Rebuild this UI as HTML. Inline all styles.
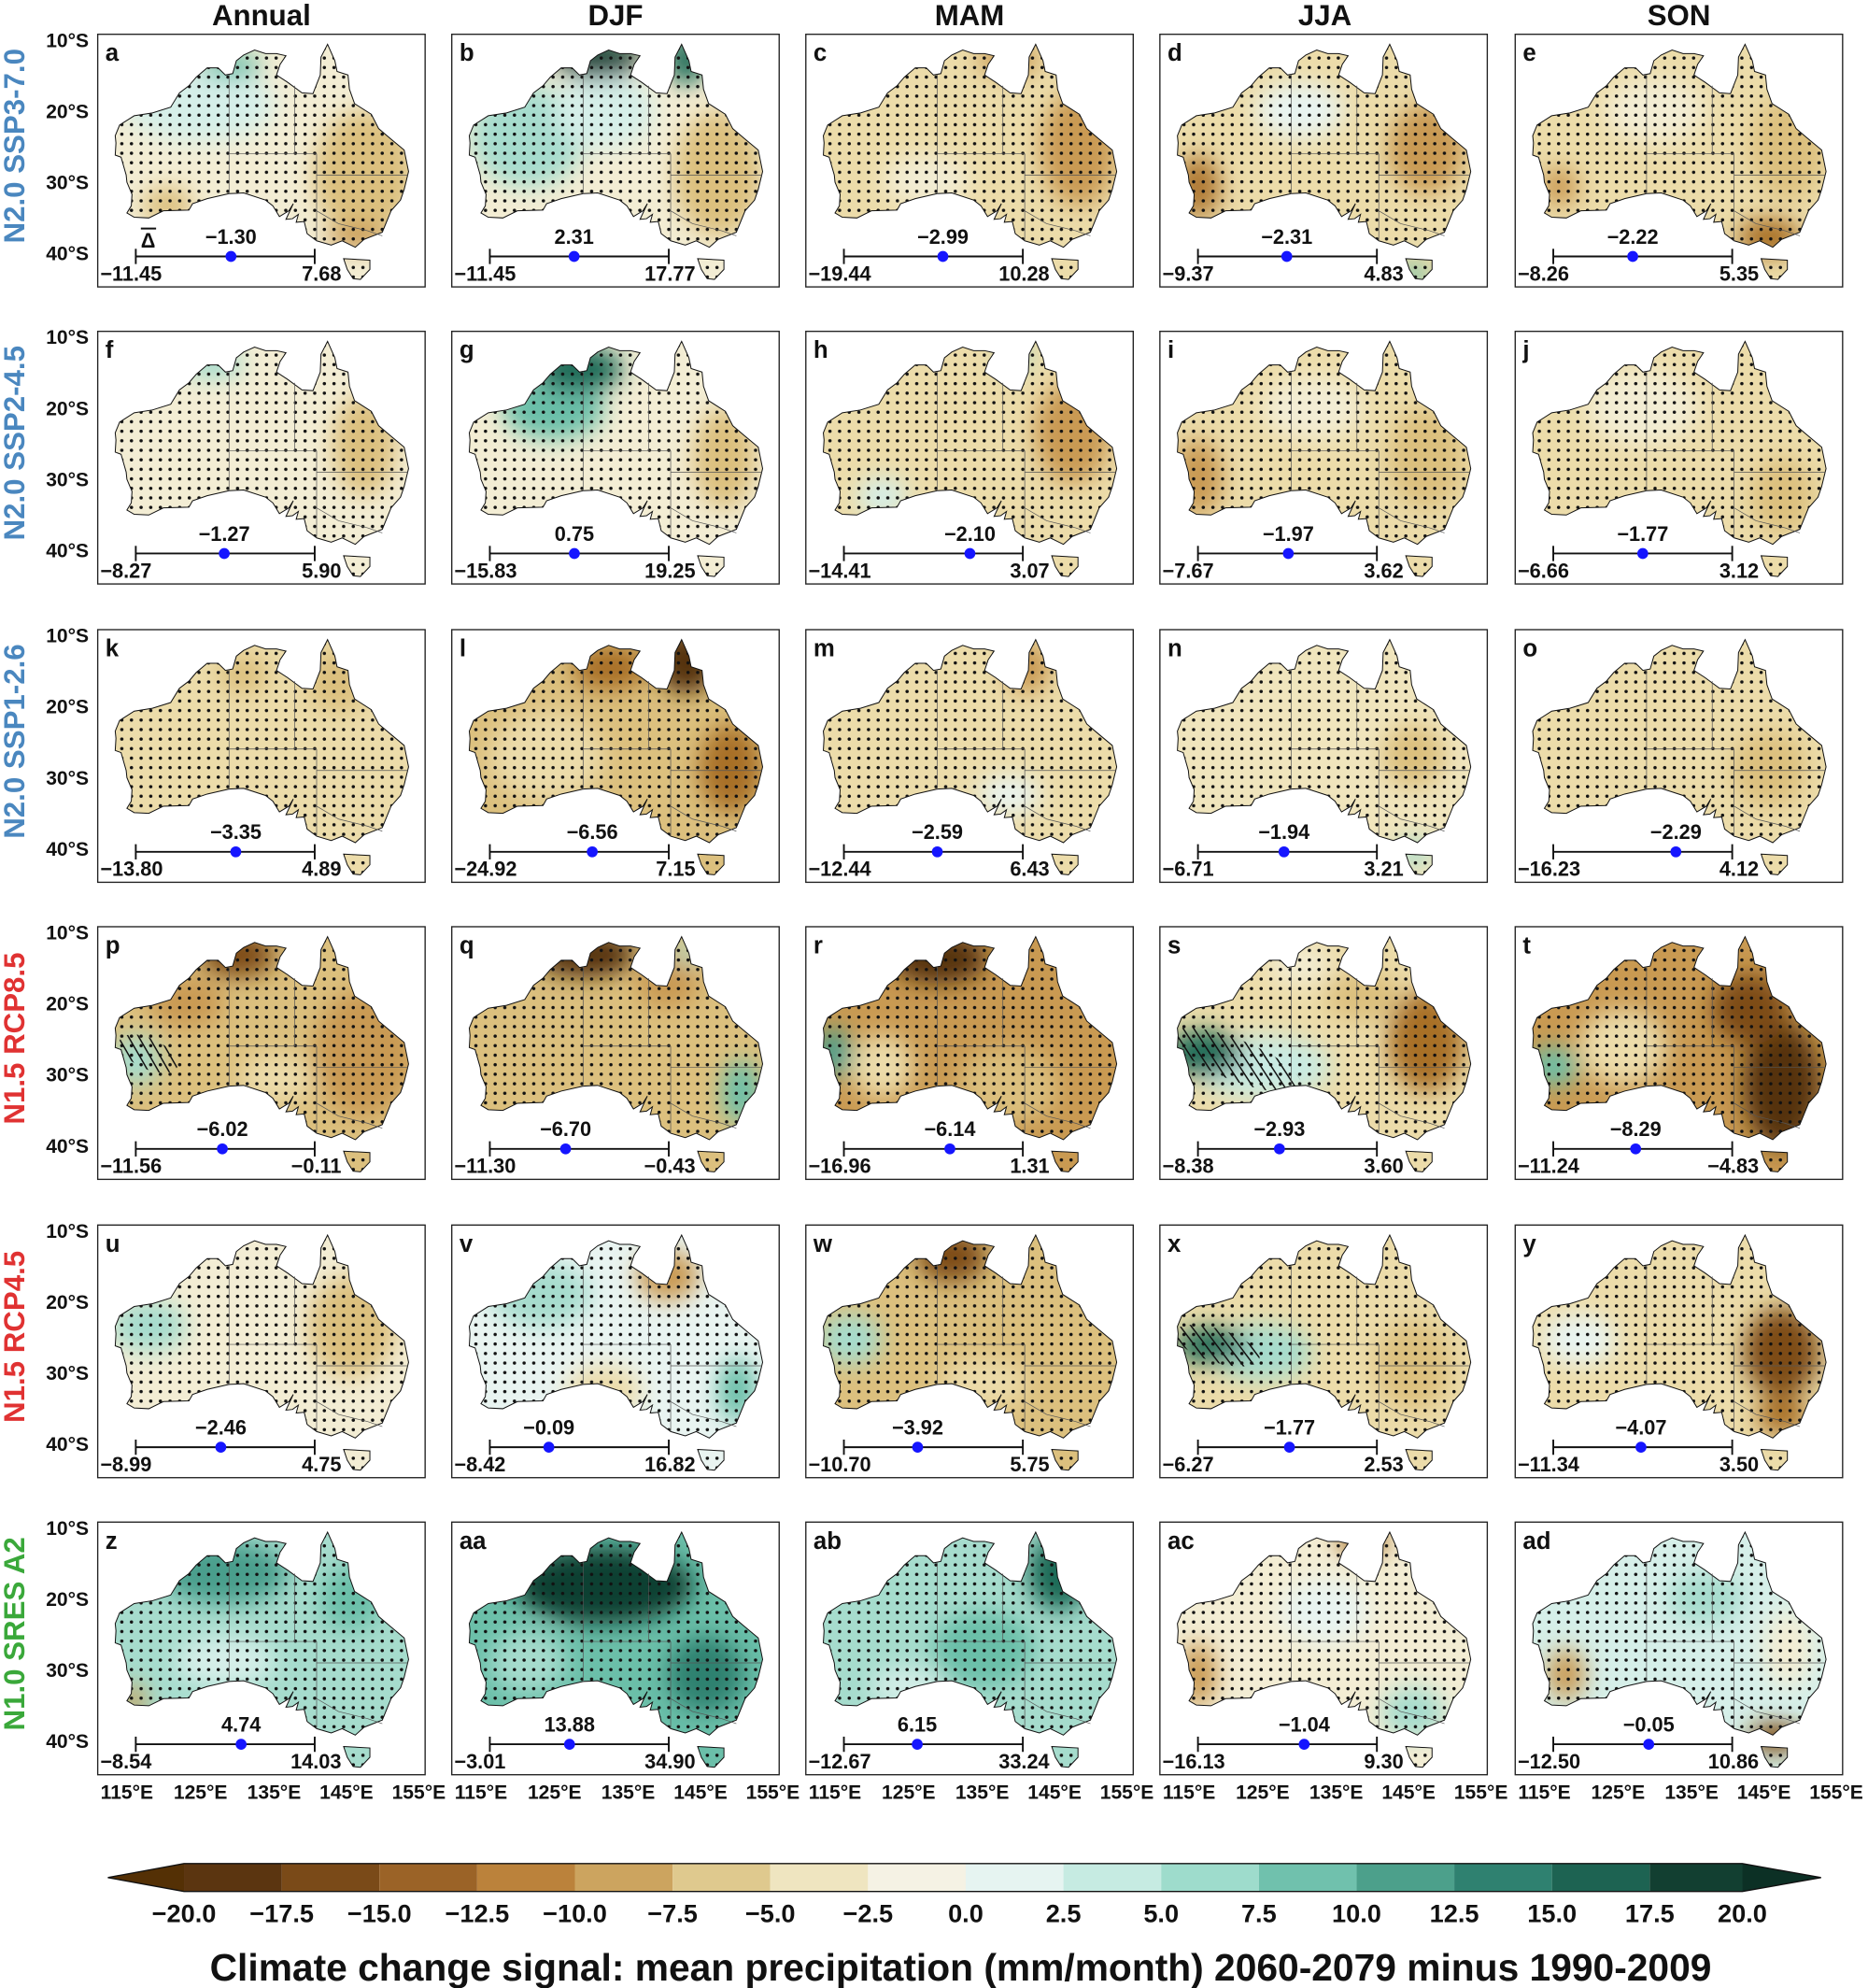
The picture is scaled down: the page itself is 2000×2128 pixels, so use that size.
<!DOCTYPE html>
<html><head><meta charset="utf-8"><style>
html,body{margin:0;padding:0;background:#fff}
svg{display:block}
text{font-family:"Liberation Sans","DejaVu Sans",sans-serif;font-weight:bold;fill:#111}
.lt{font-size:19px}
.v{font-size:16px;text-anchor:middle}
.m{font-size:16px}
.e{text-anchor:end}
.ax{font-size:15.5px}
.hd{font-size:23px;text-anchor:middle}
.rl{font-size:23px;text-anchor:middle}
.cb{font-size:20px;text-anchor:middle}
</style></head><body>
<svg width="2000" height="2128" viewBox="0 0 1472 1566" preserveAspectRatio="none" xmlns="http://www.w3.org/2000/svg">
<defs>
<path id="ausp" vector-effect="non-scaling-stroke" transform="scale(5.75,5.63) translate(-111,-9.3)" d="M114,22 L116,20.7 L118.5,20.3 L121,19.5 L122.2,17.5 L123.5,16.5 L124.5,15.3 L126,14 L127.5,14 L128.5,15 L129.5,14.8 L130,13 L131,12.2 L132.5,11.5 L134,12 L135.5,12 L136.8,12.3 L136,13.5 L135.5,15 L137,16 L139,17.5 L140.5,17.6 L141.5,15 L141.6,12.5 L142.5,10.7 L143.5,13 L143.8,14.5 L145.3,15 L145.5,17 L146.2,19 L148.5,20.5 L149.5,22.5 L151,23.8 L153,25.5 L153.6,28.5 L153,31 L152.5,32.5 L151.2,34 L150,37 L147.5,38 L146.3,39.1 L144.5,38.2 L143,38.8 L141,38.2 L139.7,37.2 L139.3,35.5 L138.2,35.6 L138.5,34.5 L137.7,35.1 L136.8,35.2 L137.8,33 L137.2,34 L135.9,34.8 L135,33.3 L134,32.5 L131,31.5 L129,31.6 L126,32.3 L124,33 L123.5,33.9 L120,34 L118,35 L116,34.9 L115,34.3 L115.6,33.3 L115.7,31.7 L115,30 L114.9,29 L114.2,26.5 L113.4,26.2 L113.5,24.5 L113.4,23.5 Z M144.7,40.7 L148.3,40.9 L148.3,42.2 L147,43.6 L146,43.5 L145.2,42.2 Z"/>
<clipPath id="aus"><use href="#ausp"/></clipPath>
<g id="outline" fill="none" stroke="#111">
<use href="#ausp" stroke-width="1"/>
</g>
<path id="states" transform="scale(5.75,5.63) translate(-111,-9.3)" fill="none" stroke="#555" stroke-width="0.7" vector-effect="non-scaling-stroke" d="M129,14.9 L129,31.7 M129,26 L141,26 M138,16.5 L138,26 M141,26 L141,38.2 M141,29 L153.5,29 M141,34 L144,35.8 L148,36.8 L150,37.5"/>
<pattern id="dots" patternUnits="userSpaceOnUse" width="7.6" height="7.5"><circle cx="3.8" cy="3.7" r="1.3" fill="#111"/></pattern>
<pattern id="hatch" patternUnits="userSpaceOnUse" width="7" height="7" patternTransform="rotate(35)"><line x1="0" y1="3" x2="7" y2="3" stroke="#111" stroke-width="1.1"/></pattern>
<filter id="bl" x="-50%" y="-50%" width="200%" height="200%"><feGaussianBlur stdDeviation="9"/></filter>
<g id="eb" stroke="#111" stroke-width="1.4"><line x1="30" y1="175" x2="171" y2="175"/><line x1="30" y1="169" x2="30" y2="181"/><line x1="171" y1="169" x2="171" y2="181"/></g>
<rect id="fr" width="258" height="199" fill="none" stroke="#222" stroke-width="1"/>
</defs>
<rect width="1472" height="1566" fill="#fff"/>

<!-- headers -->
<text class="hd" x="206" y="20">Annual</text>
<text class="hd" x="485" y="20">DJF</text>
<text class="hd" x="764" y="20">MAM</text>
<text class="hd" x="1044" y="20">JJA</text>
<text class="hd" x="1323" y="20">SON</text>

<!-- row labels -->
<text class="rl" transform="translate(19,115) rotate(-90)" style="fill:#4a87bf">N2.0 SSP3-7.0</text>
<text class="rl" transform="translate(19,349) rotate(-90)" style="fill:#4a87bf">N2.0 SSP2-4.5</text>
<text class="rl" transform="translate(19,584) rotate(-90)" style="fill:#4a87bf">N2.0 SSP1-2.6</text>
<text class="rl" transform="translate(19,818) rotate(-90)" style="fill:#e03232">N1.5 RCP8.5</text>
<text class="rl" transform="translate(19,1053) rotate(-90)" style="fill:#e03232">N1.5 RCP4.5</text>
<text class="rl" transform="translate(19,1287) rotate(-90)" style="fill:#3aa83a">N1.0 SRES A2</text>

<!-- y labels -->
<g>
<text class="ax e" x="70" y="37">10°S</text><text class="ax e" x="70" y="93">20°S</text><text class="ax e" x="70" y="149">30°S</text><text class="ax e" x="70" y="205">40°S</text>
<text class="ax e" x="70" y="271">10°S</text><text class="ax e" x="70" y="327">20°S</text><text class="ax e" x="70" y="383">30°S</text><text class="ax e" x="70" y="439">40°S</text>
<text class="ax e" x="70" y="506">10°S</text><text class="ax e" x="70" y="562">20°S</text><text class="ax e" x="70" y="618">30°S</text><text class="ax e" x="70" y="674">40°S</text>
<text class="ax e" x="70" y="740">10°S</text><text class="ax e" x="70" y="796">20°S</text><text class="ax e" x="70" y="852">30°S</text><text class="ax e" x="70" y="908">40°S</text>
<text class="ax e" x="70" y="975">10°S</text><text class="ax e" x="70" y="1031">20°S</text><text class="ax e" x="70" y="1087">30°S</text><text class="ax e" x="70" y="1143">40°S</text>
<text class="ax e" x="70" y="1209">10°S</text><text class="ax e" x="70" y="1265">20°S</text><text class="ax e" x="70" y="1321">30°S</text><text class="ax e" x="70" y="1377">40°S</text>
</g>

<!-- x labels -->
<g>
<text class="ax" x="100" y="1417" text-anchor="middle">115°E</text><text class="ax" x="158" y="1417" text-anchor="middle">125°E</text><text class="ax" x="216" y="1417" text-anchor="middle">135°E</text><text class="ax" x="273" y="1417" text-anchor="middle">145°E</text><text class="ax" x="330" y="1417" text-anchor="middle">155°E</text>
<text class="ax" x="379" y="1417" text-anchor="middle">115°E</text><text class="ax" x="437" y="1417" text-anchor="middle">125°E</text><text class="ax" x="495" y="1417" text-anchor="middle">135°E</text><text class="ax" x="552" y="1417" text-anchor="middle">145°E</text><text class="ax" x="609" y="1417" text-anchor="middle">155°E</text>
<text class="ax" x="658" y="1417" text-anchor="middle">115°E</text><text class="ax" x="716" y="1417" text-anchor="middle">125°E</text><text class="ax" x="774" y="1417" text-anchor="middle">135°E</text><text class="ax" x="831" y="1417" text-anchor="middle">145°E</text><text class="ax" x="888" y="1417" text-anchor="middle">155°E</text>
<text class="ax" x="937" y="1417" text-anchor="middle">115°E</text><text class="ax" x="995" y="1417" text-anchor="middle">125°E</text><text class="ax" x="1053" y="1417" text-anchor="middle">135°E</text><text class="ax" x="1110" y="1417" text-anchor="middle">145°E</text><text class="ax" x="1167" y="1417" text-anchor="middle">155°E</text>
<text class="ax" x="1217" y="1417" text-anchor="middle">115°E</text><text class="ax" x="1275" y="1417" text-anchor="middle">125°E</text><text class="ax" x="1333" y="1417" text-anchor="middle">135°E</text><text class="ax" x="1390" y="1417" text-anchor="middle">145°E</text><text class="ax" x="1447" y="1417" text-anchor="middle">155°E</text>
</g>

<!-- ROW 1 -->
<g transform="translate(77,27)"><g clip-path="url(#aus)"><rect width="258" height="199" fill="#f3edd4"/><g filter="url(#bl)"><ellipse cx="80" cy="55" rx="60" ry="30" fill="#d6efe9"/><ellipse cx="105" cy="25" rx="25" ry="10" fill="#6bbfa9"/><ellipse cx="210" cy="110" rx="40" ry="50" fill="#dcc07e"/><ellipse cx="55" cy="135" rx="20" ry="15" fill="#dcc07e"/><ellipse cx="205" cy="160" rx="25" ry="10" fill="#c99a52"/></g><rect width="258" height="199" fill="url(#dots)"/></g><use href="#outline"/><use href="#states"/><use href="#fr"/><text class="lt" x="6" y="21">a</text><text class="m" x="34" y="168">Δ</text><line x1="34" y1="153" x2="46" y2="153" stroke="#111" stroke-width="1.5"/><use href="#eb"/><circle cx="105" cy="175" r="4.3" fill="#1515ff"/><text class="v" x="105" y="165">−1.30</text><text class="m" x="2" y="194">−11.45</text><text class="m e" x="192" y="194">7.68</text></g>

<g transform="translate(356,27)"><g clip-path="url(#aus)"><rect width="258" height="199" fill="#f3edd4"/><g filter="url(#bl)"><ellipse cx="60" cy="80" rx="45" ry="40" fill="#a6dccd"/><ellipse cx="120" cy="60" rx="40" ry="30" fill="#d6efe9"/><ellipse cx="115" cy="20" rx="35" ry="15" fill="#0f3f31"/><ellipse cx="185" cy="20" rx="15" ry="20" fill="#1f6a56"/><ellipse cx="210" cy="110" rx="35" ry="50" fill="#dcc07e"/></g><rect width="258" height="199" fill="url(#dots)"/></g><use href="#outline"/><use href="#states"/><use href="#fr"/><text class="lt" x="6" y="21">b</text><use href="#eb"/><circle cx="96.4" cy="175" r="4.3" fill="#1515ff"/><text class="v" x="96.4" y="165">2.31</text><text class="m" x="2" y="194">−11.45</text><text class="m e" x="192" y="194">17.77</text></g>

<g transform="translate(635,27)"><g clip-path="url(#aus)"><rect width="258" height="199" fill="#ecdcaa"/><g filter="url(#bl)"><ellipse cx="215" cy="90" rx="30" ry="45" fill="#c99a52"/><ellipse cx="160" cy="20" rx="25" ry="12" fill="#c99a52"/><ellipse cx="95" cy="115" rx="35" ry="20" fill="#f3edd4"/></g><rect width="258" height="199" fill="url(#dots)"/></g><use href="#outline"/><use href="#states"/><use href="#fr"/><text class="lt" x="6" y="21">c</text><use href="#eb"/><circle cx="108" cy="175" r="4.3" fill="#1515ff"/><text class="v" x="108" y="165">−2.99</text><text class="m" x="2" y="194">−19.44</text><text class="m e" x="192" y="194">10.28</text></g>

<g transform="translate(914,27)"><g clip-path="url(#aus)"><rect width="258" height="199" fill="#ecdcaa"/><g filter="url(#bl)"><ellipse cx="30" cy="120" rx="18" ry="25" fill="#b07a35"/><ellipse cx="210" cy="90" rx="30" ry="35" fill="#c99a52"/><ellipse cx="110" cy="60" rx="35" ry="22" fill="#e9f4f1"/><ellipse cx="200" cy="190" rx="10" ry="10" fill="#6bbfa9"/></g><rect width="258" height="199" fill="url(#dots)"/></g><use href="#outline"/><use href="#states"/><use href="#fr"/><text class="lt" x="6" y="21">d</text><use href="#eb"/><circle cx="100" cy="175" r="4.3" fill="#1515ff"/><text class="v" x="100" y="165">−2.31</text><text class="m" x="2" y="194">−9.37</text><text class="m e" x="192" y="194">4.83</text></g>

<g transform="translate(1194,27)"><g clip-path="url(#aus)"><rect width="258" height="199" fill="#ecdcaa"/><g filter="url(#bl)"><ellipse cx="200" cy="160" rx="25" ry="15" fill="#a86f28"/><ellipse cx="215" cy="90" rx="30" ry="40" fill="#dcc07e"/><ellipse cx="35" cy="120" rx="15" ry="15" fill="#c99a52"/><ellipse cx="110" cy="60" rx="40" ry="25" fill="#f3edd4"/></g><rect width="258" height="199" fill="url(#dots)"/></g><use href="#outline"/><use href="#states"/><use href="#fr"/><text class="lt" x="6" y="21">e</text><use href="#eb"/><circle cx="92.6" cy="175" r="4.3" fill="#1515ff"/><text class="v" x="92.6" y="165">−2.22</text><text class="m" x="2" y="194">−8.26</text><text class="m e" x="192" y="194">5.35</text></g>

<!-- ROW 2 -->
<g transform="translate(77,261)"><g clip-path="url(#aus)"><rect width="258" height="199" fill="#f3edd4"/><g filter="url(#bl)"><ellipse cx="90" cy="25" rx="25" ry="12" fill="#a6dccd"/><ellipse cx="210" cy="90" rx="25" ry="40" fill="#dcc07e"/></g><rect width="258" height="199" fill="url(#dots)"/></g><use href="#outline"/><use href="#states"/><use href="#fr"/><text class="lt" x="6" y="21">f</text><use href="#eb"/><circle cx="99.7" cy="175" r="4.3" fill="#1515ff"/><text class="v" x="99.7" y="165">−1.27</text><text class="m" x="2" y="194">−8.27</text><text class="m e" x="192" y="194">5.90</text></g>

<g transform="translate(356,261)"><g clip-path="url(#aus)"><rect width="258" height="199" fill="#f3edd4"/><g filter="url(#bl)"><ellipse cx="80" cy="60" rx="40" ry="25" fill="#6bbfa9"/><ellipse cx="100" cy="30" rx="35" ry="18" fill="#1f6a56"/><ellipse cx="215" cy="100" rx="25" ry="40" fill="#dcc07e"/></g><rect width="258" height="199" fill="url(#dots)"/></g><use href="#outline"/><use href="#states"/><use href="#fr"/><text class="lt" x="6" y="21">g</text><use href="#eb"/><circle cx="96.6" cy="175" r="4.3" fill="#1515ff"/><text class="v" x="96.6" y="165">0.75</text><text class="m" x="2" y="194">−15.83</text><text class="m e" x="192" y="194">19.25</text></g>

<g transform="translate(635,261)"><g clip-path="url(#aus)"><rect width="258" height="199" fill="#ecdcaa"/><g filter="url(#bl)"><ellipse cx="210" cy="80" rx="30" ry="40" fill="#c99a52"/><ellipse cx="60" cy="130" rx="20" ry="15" fill="#d6efe9"/><ellipse cx="165" cy="20" rx="12" ry="10" fill="#a6dccd"/></g><rect width="258" height="199" fill="url(#dots)"/></g><use href="#outline"/><use href="#states"/><use href="#fr"/><text class="lt" x="6" y="21">h</text><use href="#eb"/><circle cx="129.3" cy="175" r="4.3" fill="#1515ff"/><text class="v" x="129.3" y="165">−2.10</text><text class="m" x="2" y="194">−14.41</text><text class="m e" x="192" y="194">3.07</text></g>

<g transform="translate(914,261)"><g clip-path="url(#aus)"><rect width="258" height="199" fill="#ecdcaa"/><g filter="url(#bl)"><ellipse cx="30" cy="115" rx="20" ry="30" fill="#c99a52"/><ellipse cx="210" cy="100" rx="30" ry="40" fill="#dcc07e"/><ellipse cx="120" cy="60" rx="40" ry="25" fill="#f3edd4"/></g><rect width="258" height="199" fill="url(#dots)"/></g><use href="#outline"/><use href="#states"/><use href="#fr"/><text class="lt" x="6" y="21">i</text><use href="#eb"/><circle cx="101.2" cy="175" r="4.3" fill="#1515ff"/><text class="v" x="101.2" y="165">−1.97</text><text class="m" x="2" y="194">−7.67</text><text class="m e" x="192" y="194">3.62</text></g>

<g transform="translate(1194,261)"><g clip-path="url(#aus)"><rect width="258" height="199" fill="#ecdcaa"/><g filter="url(#bl)"><ellipse cx="210" cy="130" rx="25" ry="30" fill="#dcc07e"/><ellipse cx="100" cy="60" rx="45" ry="30" fill="#f3edd4"/></g><rect width="258" height="199" fill="url(#dots)"/></g><use href="#outline"/><use href="#states"/><use href="#fr"/><text class="lt" x="6" y="21">j</text><use href="#eb"/><circle cx="100.5" cy="175" r="4.3" fill="#1515ff"/><text class="v" x="100.5" y="165">−1.77</text><text class="m" x="2" y="194">−6.66</text><text class="m e" x="192" y="194">3.12</text></g>

<!-- ROW 3 -->
<g transform="translate(77,496)"><g clip-path="url(#aus)"><rect width="258" height="199" fill="#ecdcaa"/><g filter="url(#bl)"><ellipse cx="190" cy="40" rx="25" ry="25" fill="#dcc07e"/><ellipse cx="115" cy="35" rx="20" ry="15" fill="#dcc07e"/></g><rect width="258" height="199" fill="url(#dots)"/></g><use href="#outline"/><use href="#states"/><use href="#fr"/><text class="lt" x="6" y="21">k</text><use href="#eb"/><circle cx="108.8" cy="175" r="4.3" fill="#1515ff"/><text class="v" x="108.8" y="165">−3.35</text><text class="m" x="2" y="194">−13.80</text><text class="m e" x="192" y="194">4.89</text></g>

<g transform="translate(356,496)"><g clip-path="url(#aus)"><rect width="258" height="199" fill="#dcc07e"/><g filter="url(#bl)"><ellipse cx="185" cy="25" rx="25" ry="25" fill="#55320a"/><ellipse cx="125" cy="30" rx="30" ry="18" fill="#a86f28"/><ellipse cx="220" cy="110" rx="25" ry="35" fill="#a86f28"/><ellipse cx="75" cy="100" rx="45" ry="35" fill="#ecdcaa"/></g><rect width="258" height="199" fill="url(#dots)"/></g><use href="#outline"/><use href="#states"/><use href="#fr"/><text class="lt" x="6" y="21">l</text><use href="#eb"/><circle cx="110.7" cy="175" r="4.3" fill="#1515ff"/><text class="v" x="110.7" y="165">−6.56</text><text class="m" x="2" y="194">−24.92</text><text class="m e" x="192" y="194">7.15</text></g>

<g transform="translate(635,496)"><g clip-path="url(#aus)"><rect width="258" height="199" fill="#ecdcaa"/><g filter="url(#bl)"><ellipse cx="175" cy="30" rx="18" ry="20" fill="#c99a52"/><ellipse cx="160" cy="130" rx="25" ry="15" fill="#e9f4f1"/></g><rect width="258" height="199" fill="url(#dots)"/></g><use href="#outline"/><use href="#states"/><use href="#fr"/><text class="lt" x="6" y="21">m</text><use href="#eb"/><circle cx="103.6" cy="175" r="4.3" fill="#1515ff"/><text class="v" x="103.6" y="165">−2.59</text><text class="m" x="2" y="194">−12.44</text><text class="m e" x="192" y="194">6.43</text></g>

<g transform="translate(914,496)"><g clip-path="url(#aus)"><rect width="258" height="199" fill="#f0e5bd"/><g filter="url(#bl)"><ellipse cx="200" cy="100" rx="25" ry="25" fill="#dcc07e"/><ellipse cx="200" cy="175" rx="15" ry="10" fill="#a6dccd"/></g><rect width="258" height="199" fill="url(#dots)"/></g><use href="#outline"/><use href="#states"/><use href="#fr"/><text class="lt" x="6" y="21">n</text><use href="#eb"/><circle cx="97.8" cy="175" r="4.3" fill="#1515ff"/><text class="v" x="97.8" y="165">−1.94</text><text class="m" x="2" y="194">−6.71</text><text class="m e" x="192" y="194">3.21</text></g>

<g transform="translate(1194,496)"><g clip-path="url(#aus)"><rect width="258" height="199" fill="#ecdcaa"/><g filter="url(#bl)"><ellipse cx="200" cy="110" rx="30" ry="30" fill="#dcc07e"/></g><rect width="258" height="199" fill="url(#dots)"/></g><use href="#outline"/><use href="#states"/><use href="#fr"/><text class="lt" x="6" y="21">o</text><use href="#eb"/><circle cx="126.6" cy="175" r="4.3" fill="#1515ff"/><text class="v" x="126.6" y="165">−2.29</text><text class="m" x="2" y="194">−16.23</text><text class="m e" x="192" y="194">4.12</text></g>

<!-- ROW 4 -->
<g transform="translate(77,730)"><g clip-path="url(#aus)"><rect width="258" height="199" fill="#dcc07e"/><g filter="url(#bl)"><ellipse cx="110" cy="22" rx="30" ry="18" fill="#7d4c12"/><ellipse cx="210" cy="100" rx="40" ry="50" fill="#c99a52"/><ellipse cx="70" cy="60" rx="30" ry="20" fill="#c99a52"/><ellipse cx="30" cy="105" rx="20" ry="20" fill="#a6dccd"/><ellipse cx="140" cy="120" rx="30" ry="20" fill="#ecdcaa"/></g><rect width="258" height="199" fill="url(#dots)"/><ellipse cx="40" cy="100" rx="25" ry="12" fill="url(#hatch)" transform="rotate(25 40 100)"/></g><use href="#outline"/><use href="#states"/><use href="#fr"/><text class="lt" x="6" y="21">p</text><use href="#eb"/><circle cx="98.2" cy="175" r="4.3" fill="#1515ff"/><text class="v" x="98.2" y="165">−6.02</text><text class="m" x="2" y="194">−11.56</text><text class="m e" x="192" y="194">−0.11</text></g>

<g transform="translate(356,730)"><g clip-path="url(#aus)"><rect width="258" height="199" fill="#dcc07e"/><g filter="url(#bl)"><ellipse cx="105" cy="22" rx="40" ry="18" fill="#55320a"/><ellipse cx="170" cy="45" rx="25" ry="20" fill="#c99a52"/><ellipse cx="228" cy="130" rx="15" ry="25" fill="#6bbfa9"/><ellipse cx="185" cy="20" rx="8" ry="10" fill="#a6dccd"/></g><rect width="258" height="199" fill="url(#dots)"/></g><use href="#outline"/><use href="#states"/><use href="#fr"/><text class="lt" x="6" y="21">q</text><use href="#eb"/><circle cx="89.7" cy="175" r="4.3" fill="#1515ff"/><text class="v" x="89.7" y="165">−6.70</text><text class="m" x="2" y="194">−11.30</text><text class="m e" x="192" y="194">−0.43</text></g>

<g transform="translate(635,730)"><g clip-path="url(#aus)"><rect width="258" height="199" fill="#c99a52"/><g filter="url(#bl)"><ellipse cx="105" cy="25" rx="38" ry="20" fill="#55320a"/><ellipse cx="22" cy="100" rx="15" ry="20" fill="#4a9e8c"/><ellipse cx="160" cy="125" rx="40" ry="30" fill="#dcc07e"/><ellipse cx="60" cy="110" rx="25" ry="25" fill="#ecdcaa"/></g><rect width="258" height="199" fill="url(#dots)"/></g><use href="#outline"/><use href="#states"/><use href="#fr"/><text class="lt" x="6" y="21">r</text><use href="#eb"/><circle cx="113.5" cy="175" r="4.3" fill="#1515ff"/><text class="v" x="113.5" y="165">−6.14</text><text class="m" x="2" y="194">−16.96</text><text class="m e" x="192" y="194">1.31</text></g>

<g transform="translate(914,730)"><g clip-path="url(#aus)"><rect width="258" height="199" fill="#ecdcaa"/><g filter="url(#bl)"><ellipse cx="80" cy="110" rx="55" ry="25" fill="#c9ebe3"/><ellipse cx="35" cy="100" rx="30" ry="18" fill="#1f6a56"/><ellipse cx="210" cy="90" rx="30" ry="40" fill="#a86f28"/><ellipse cx="160" cy="55" rx="30" ry="20" fill="#dcc07e"/><ellipse cx="110" cy="30" rx="25" ry="15" fill="#f3edd4"/></g><rect width="258" height="199" fill="url(#dots)"/><ellipse cx="60" cy="105" rx="55" ry="16" fill="url(#hatch)" transform="rotate(22 60 105)"/></g><use href="#outline"/><use href="#states"/><use href="#fr"/><text class="lt" x="6" y="21">s</text><use href="#eb"/><circle cx="94.2" cy="175" r="4.3" fill="#1515ff"/><text class="v" x="94.2" y="165">−2.93</text><text class="m" x="2" y="194">−8.38</text><text class="m e" x="192" y="194">3.60</text></g>

<g transform="translate(1194,730)"><g clip-path="url(#aus)"><rect width="258" height="199" fill="#c99a52"/><g filter="url(#bl)"><ellipse cx="210" cy="125" rx="30" ry="50" fill="#55320a"/><ellipse cx="185" cy="65" rx="30" ry="28" fill="#7d4c12"/><ellipse cx="30" cy="110" rx="20" ry="15" fill="#6bbfa9"/><ellipse cx="85" cy="95" rx="35" ry="30" fill="#ecdcaa"/></g><rect width="258" height="199" fill="url(#dots)"/></g><use href="#outline"/><use href="#states"/><use href="#fr"/><text class="lt" x="6" y="21">t</text><use href="#eb"/><circle cx="94.9" cy="175" r="4.3" fill="#1515ff"/><text class="v" x="94.9" y="165">−8.29</text><text class="m" x="2" y="194">−11.24</text><text class="m e" x="192" y="194">−4.83</text></g>

<!-- ROW 5 -->
<g transform="translate(77,965)"><g clip-path="url(#aus)"><rect width="258" height="199" fill="#f3edd4"/><g filter="url(#bl)"><ellipse cx="40" cy="80" rx="30" ry="20" fill="#a6dccd"/><ellipse cx="200" cy="80" rx="35" ry="40" fill="#dcc07e"/></g><rect width="258" height="199" fill="url(#dots)"/></g><use href="#outline"/><use href="#states"/><use href="#fr"/><text class="lt" x="6" y="21">u</text><use href="#eb"/><circle cx="97" cy="175" r="4.3" fill="#1515ff"/><text class="v" x="97" y="165">−2.46</text><text class="m" x="2" y="194">−8.99</text><text class="m e" x="192" y="194">4.75</text></g>

<g transform="translate(356,965)"><g clip-path="url(#aus)"><rect width="258" height="199" fill="#e9f4f1"/><g filter="url(#bl)"><ellipse cx="70" cy="55" rx="40" ry="25" fill="#a6dccd"/><ellipse cx="170" cy="40" rx="25" ry="20" fill="#c99a52"/><ellipse cx="225" cy="130" rx="15" ry="25" fill="#6bbfa9"/><ellipse cx="120" cy="130" rx="30" ry="20" fill="#ecdcaa"/></g><rect width="258" height="199" fill="url(#dots)"/></g><use href="#outline"/><use href="#states"/><use href="#fr"/><text class="lt" x="6" y="21">v</text><use href="#eb"/><circle cx="76.5" cy="175" r="4.3" fill="#1515ff"/><text class="v" x="76.5" y="165">−0.09</text><text class="m" x="2" y="194">−8.42</text><text class="m e" x="192" y="194">16.82</text></g>

<g transform="translate(635,965)"><g clip-path="url(#aus)"><rect width="258" height="199" fill="#dcc07e"/><g filter="url(#bl)"><ellipse cx="115" cy="25" rx="28" ry="20" fill="#7d4c12"/><ellipse cx="35" cy="90" rx="25" ry="20" fill="#a6dccd"/><ellipse cx="140" cy="125" rx="35" ry="20" fill="#ecdcaa"/></g><rect width="258" height="199" fill="url(#dots)"/></g><use href="#outline"/><use href="#states"/><use href="#fr"/><text class="lt" x="6" y="21">w</text><use href="#eb"/><circle cx="88.1" cy="175" r="4.3" fill="#1515ff"/><text class="v" x="88.1" y="165">−3.92</text><text class="m" x="2" y="194">−10.70</text><text class="m e" x="192" y="194">5.75</text></g>

<g transform="translate(914,965)"><g clip-path="url(#aus)"><rect width="258" height="199" fill="#ecdcaa"/><g filter="url(#bl)"><ellipse cx="80" cy="100" rx="40" ry="22" fill="#a6dccd"/><ellipse cx="40" cy="95" rx="28" ry="14" fill="#1f6a56"/><ellipse cx="200" cy="110" rx="30" ry="35" fill="#dcc07e"/></g><rect width="258" height="199" fill="url(#dots)"/><ellipse cx="45" cy="95" rx="35" ry="13" fill="url(#hatch)" transform="rotate(18 45 95)"/></g><use href="#outline"/><use href="#states"/><use href="#fr"/><text class="lt" x="6" y="21">x</text><use href="#eb"/><circle cx="102.1" cy="175" r="4.3" fill="#1515ff"/><text class="v" x="102.1" y="165">−1.77</text><text class="m" x="2" y="194">−6.27</text><text class="m e" x="192" y="194">2.53</text></g>

<g transform="translate(1194,965)"><g clip-path="url(#aus)"><rect width="258" height="199" fill="#ecdcaa"/><g filter="url(#bl)"><ellipse cx="210" cy="100" rx="30" ry="35" fill="#7d4c12"/><ellipse cx="210" cy="150" rx="20" ry="15" fill="#a86f28"/><ellipse cx="50" cy="90" rx="30" ry="20" fill="#e9f4f1"/></g><rect width="258" height="199" fill="url(#dots)"/></g><use href="#outline"/><use href="#states"/><use href="#fr"/><text class="lt" x="6" y="21">y</text><use href="#eb"/><circle cx="99.1" cy="175" r="4.3" fill="#1515ff"/><text class="v" x="99.1" y="165">−4.07</text><text class="m" x="2" y="194">−11.34</text><text class="m e" x="192" y="194">3.50</text></g>

<!-- ROW 6 -->
<g transform="translate(77,1199)"><g clip-path="url(#aus)"><rect width="258" height="199" fill="#a6dccd"/><g filter="url(#bl)"><ellipse cx="100" cy="40" rx="50" ry="25" fill="#4a9e8c"/><ellipse cx="200" cy="60" rx="25" ry="25" fill="#6bbfa9"/><ellipse cx="28" cy="140" rx="10" ry="12" fill="#c99a52"/><ellipse cx="100" cy="110" rx="40" ry="20" fill="#d6efe9"/></g><rect width="258" height="199" fill="url(#dots)"/></g><use href="#outline"/><use href="#states"/><use href="#fr"/><text class="lt" x="6" y="21">z</text><use href="#eb"/><circle cx="113" cy="175" r="4.3" fill="#1515ff"/><text class="v" x="113" y="165">4.74</text><text class="m" x="2" y="194">−8.54</text><text class="m e" x="192" y="194">14.03</text></g>

<g transform="translate(356,1199)"><g clip-path="url(#aus)"><rect width="258" height="199" fill="#6bbfa9"/><g filter="url(#bl)"><ellipse cx="120" cy="50" rx="70" ry="30" fill="#0f3f31"/><ellipse cx="200" cy="120" rx="30" ry="30" fill="#2e8170"/><ellipse cx="60" cy="110" rx="30" ry="25" fill="#a6dccd"/></g><rect width="258" height="199" fill="url(#dots)"/></g><use href="#outline"/><use href="#states"/><use href="#fr"/><text class="lt" x="6" y="21">aa</text><use href="#eb"/><circle cx="92.8" cy="175" r="4.3" fill="#1515ff"/><text class="v" x="92.8" y="165">13.88</text><text class="m" x="2" y="194">−3.01</text><text class="m e" x="192" y="194">34.90</text></g>

<g transform="translate(635,1199)"><g clip-path="url(#aus)"><rect width="258" height="199" fill="#a6dccd"/><g filter="url(#bl)"><ellipse cx="200" cy="40" rx="25" ry="30" fill="#1f6a56"/><ellipse cx="140" cy="100" rx="40" ry="30" fill="#6bbfa9"/><ellipse cx="80" cy="130" rx="30" ry="15" fill="#d6efe9"/></g><rect width="258" height="199" fill="url(#dots)"/></g><use href="#outline"/><use href="#states"/><use href="#fr"/><text class="lt" x="6" y="21">ab</text><use href="#eb"/><circle cx="87.8" cy="175" r="4.3" fill="#1515ff"/><text class="v" x="87.8" y="165">6.15</text><text class="m" x="2" y="194">−12.67</text><text class="m e" x="192" y="194">33.24</text></g>

<g transform="translate(914,1199)"><g clip-path="url(#aus)"><rect width="258" height="199" fill="#f3edd4"/><g filter="url(#bl)"><ellipse cx="160" cy="15" rx="20" ry="12" fill="#a86f28"/><ellipse cx="30" cy="120" rx="15" ry="25" fill="#c99a52"/><ellipse cx="200" cy="150" rx="25" ry="20" fill="#a6dccd"/><ellipse cx="130" cy="70" rx="35" ry="25" fill="#e9f4f1"/></g><rect width="258" height="199" fill="url(#dots)"/></g><use href="#outline"/><use href="#states"/><use href="#fr"/><text class="lt" x="6" y="21">ac</text><use href="#eb"/><circle cx="113.7" cy="175" r="4.3" fill="#1515ff"/><text class="v" x="113.7" y="165">−1.04</text><text class="m" x="2" y="194">−16.13</text><text class="m e" x="192" y="194">9.30</text></g>

<g transform="translate(1194,1199)"><g clip-path="url(#aus)"><rect width="258" height="199" fill="#d6efe9"/><g filter="url(#bl)"><ellipse cx="205" cy="170" rx="22" ry="12" fill="#7d4c12"/><ellipse cx="40" cy="120" rx="15" ry="20" fill="#c99a52"/><ellipse cx="150" cy="60" rx="30" ry="20" fill="#a6dccd"/><ellipse cx="215" cy="100" rx="20" ry="30" fill="#f3edd4"/></g><rect width="258" height="199" fill="url(#dots)"/></g><use href="#outline"/><use href="#states"/><use href="#fr"/><text class="lt" x="6" y="21">ad</text><use href="#eb"/><circle cx="105.2" cy="175" r="4.3" fill="#1515ff"/><text class="v" x="105.2" y="165">−0.05</text><text class="m" x="2" y="194">−12.50</text><text class="m e" x="192" y="194">10.86</text></g>

<!-- colorbar -->
<g>
<polygon points="85,1479 145,1468 145,1490" fill="#543005"/>
<rect x="145" y="1468" width="77" height="22" fill="#5b3510"/>
<rect x="222" y="1468" width="77" height="22" fill="#7a4a18"/>
<rect x="299" y="1468" width="77" height="22" fill="#9b6327"/>
<rect x="376" y="1468" width="77" height="22" fill="#bb823b"/>
<rect x="453" y="1468" width="77" height="22" fill="#cca45f"/>
<rect x="530" y="1468" width="77" height="22" fill="#dfc98e"/>
<rect x="607" y="1468" width="77" height="22" fill="#efe5c0"/>
<rect x="684" y="1468" width="77" height="22" fill="#f5f2e4"/>
<rect x="761" y="1468" width="77" height="22" fill="#e6f4f1"/>
<rect x="838" y="1468" width="77" height="22" fill="#c6ebe2"/>
<rect x="915" y="1468" width="77" height="22" fill="#9edccc"/>
<rect x="992" y="1468" width="77" height="22" fill="#70c1ad"/>
<rect x="1069" y="1468" width="77" height="22" fill="#4ca08b"/>
<rect x="1146" y="1468" width="77" height="22" fill="#2f8170"/>
<rect x="1223" y="1468" width="77" height="22" fill="#1d6352"/>
<rect x="1300" y="1468" width="73" height="22" fill="#123f31"/>
<polygon points="1373,1468 1435,1479 1373,1490" fill="#0c3025"/>
<polygon points="85,1479 145,1468 1373,1468 1435,1479 1373,1490 145,1490" fill="none" stroke="#111" stroke-width="1"/>
</g>
<g>
<text class="cb" x="145" y="1514">−20.0</text><text class="cb" x="222" y="1514">−17.5</text><text class="cb" x="299" y="1514">−15.0</text><text class="cb" x="376" y="1514">−12.5</text><text class="cb" x="453" y="1514">−10.0</text><text class="cb" x="530" y="1514">−7.5</text><text class="cb" x="607" y="1514">−5.0</text><text class="cb" x="684" y="1514">−2.5</text><text class="cb" x="761" y="1514">0.0</text><text class="cb" x="838" y="1514">2.5</text><text class="cb" x="915" y="1514">5.0</text><text class="cb" x="992" y="1514">7.5</text><text class="cb" x="1069" y="1514">10.0</text><text class="cb" x="1146" y="1514">12.5</text><text class="cb" x="1223" y="1514">15.0</text><text class="cb" x="1300" y="1514">17.5</text><text class="cb" x="1373" y="1514">20.0</text>
</g>
<text x="757" y="1560" text-anchor="middle" style="font-size:30px">Climate change signal: mean  precipitation (mm/month) 2060-2079 minus 1990-2009</text>
</svg>
</body></html>
